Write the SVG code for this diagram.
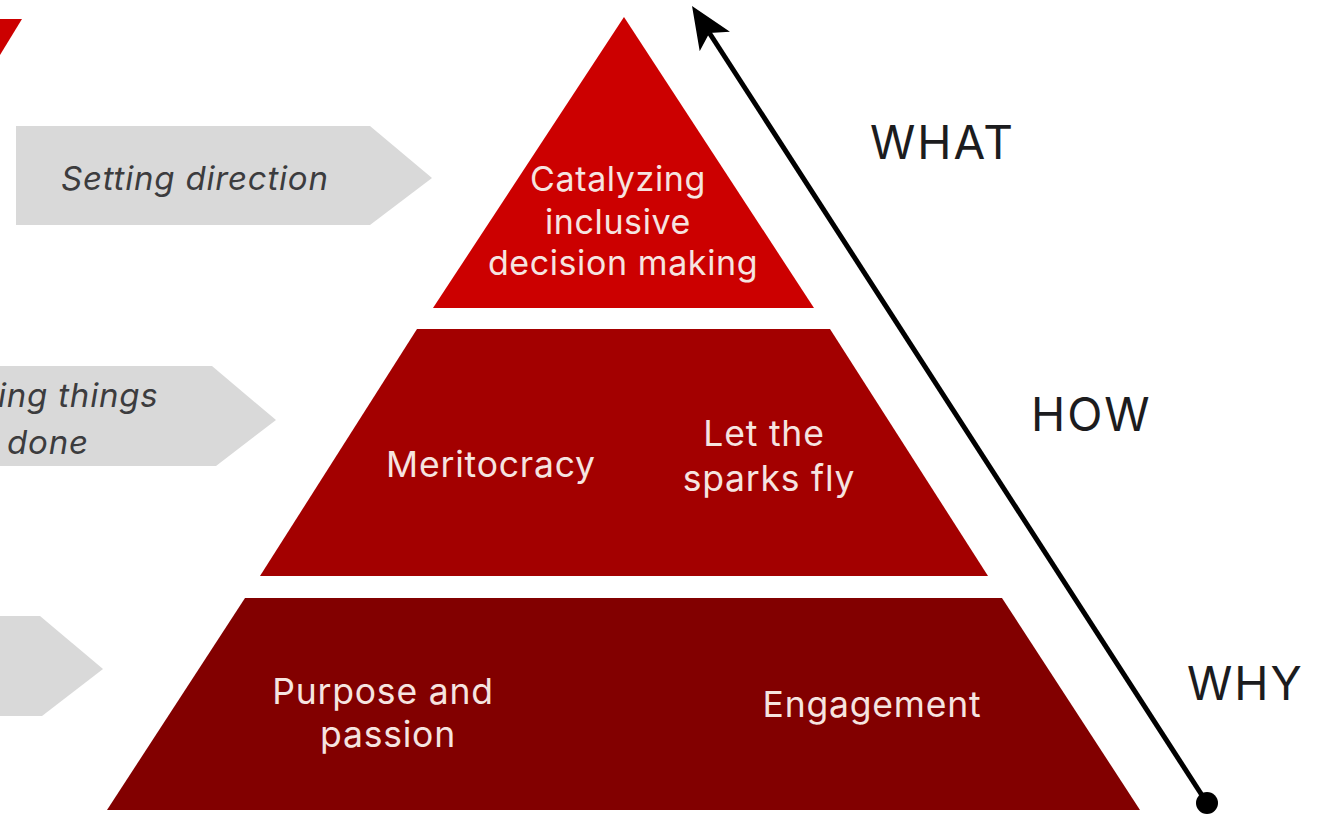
<svg xmlns="http://www.w3.org/2000/svg" width="1319" height="815" viewBox="0 0 1319 815">
<style>
.t{font-family:"Inter","Noto Sans",sans-serif;font-size:35.5px;fill:#f6e4e0;text-anchor:middle;letter-spacing:.8px}
.s{font-size:34px;letter-spacing:.6px}
.g{font-family:"Inter","Noto Sans",sans-serif;font-size:33px;font-style:italic;fill:#3c3c3e;letter-spacing:.8px}
.k{font-family:"Inter","Noto Sans",sans-serif;font-size:46px;fill:#1c1c1e;letter-spacing:2px}
.a{fill:#d9d9d9}
</style>
<defs><marker id="h" markerUnits="userSpaceOnUse" markerWidth="44" markerHeight="38" refX="10" refY="18" orient="auto"><path d="M42 18L0 0L10 18L0 36Z" fill="#000"/></marker></defs>
<rect width="1319" height="815" fill="#fff"/>
<g id="corner"><path d="M0 19H22L0 55Z" fill="#cc0000"/></g>
<g id="arrow-setting"><path class="a" d="M16 126H370L432 178L370 225H16Z"/><text class="g" x="61" y="190">Setting direction</text></g>
<g id="arrow-getting"><path class="a" d="M0 366H212L276 420L216 466H0Z"/><text class="g" x="-2" y="407">ing things</text><text class="g" x="7" y="454">done</text></g>
<g id="arrow-third"><path class="a" d="M0 616H40L103 669L42 716H0Z"/></g>
<g id="tier-top"><path d="M624 17L814 308H433Z" fill="#cc0000"/><text class="t s" x="618" y="191">Catalyzing</text><text class="t s" x="618" y="234">inclusive</text><text class="t s" x="623" y="275">decision making</text></g>
<g id="tier-middle"><path d="M417 329H830L988 576H260Z" fill="#a30000"/><text class="t" x="491" y="477">Meritocracy</text><text class="t" x="764" y="446">Let the</text><text class="t" x="769" y="491">sparks fly</text></g>
<g id="tier-bottom"><path d="M245 598H1002L1140 810H107Z" fill="#820000"/><text class="t" x="383" y="704">Purpose and</text><text class="t" x="388" y="747">passion</text><text class="t" x="872" y="717">Engagement</text></g>
<g id="connectors"><path d="M1207 803L709.4 33" fill="none" stroke="#000" stroke-width="5" marker-end="url(#h)"/><circle cx="1207" cy="803" r="11"/></g>
<g id="labels"><text class="k" x="870" y="159">WHAT</text><text class="k" x="1031" y="431">HOW</text><text class="k" x="1187" y="700">WHY</text></g>
</svg>
